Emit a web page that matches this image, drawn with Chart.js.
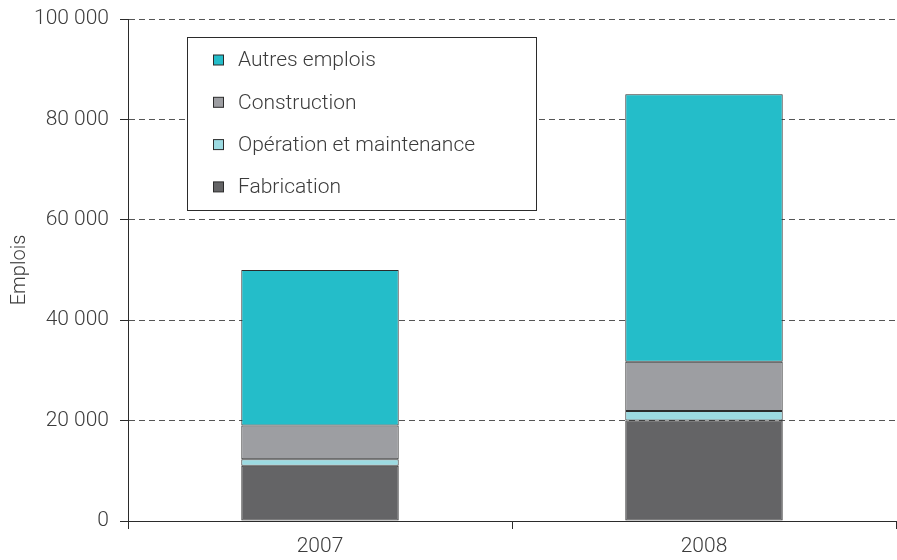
<!DOCTYPE html>
<html>
<head>
<meta charset="utf-8">
<script src="https://cdn.jsdelivr.net/npm/chart.js@4"></script>
<style>
  html, body { margin:0; padding:0; background:#fff; }
  #wrap { width:897px; height:560px; position:relative; }
</style>
</head>
<body>
<div id="wrap"><canvas id="ch"></canvas></div>
<script>
// data
const years        = ['2007', '2008'];
const fabrication  = [11000, 20000];
const operation    = [1300, 1900];
const construction = [6700, 9800];
const autres       = [31000, 53300];
const yTicks       = [0, 20000, 40000, 60000, 80000, 100000];

const FONT = "Roboto, 'Liberation Sans', Arial, sans-serif";
const TXT  = '#3c3c3c';
const EDGE = '#2b2b2b';
const FS   = 21;

const fmt = v => String(v).replace(/\B(?=(\d{3})+(?!\d))/g, ' ');

// legend box inside the plot, top-left (reverse stacking order)
const boxLegend = {
  id: 'boxLegend',
  afterDraw(chart) {
    const { ctx } = chart;
    const x0 = 187.5, y0 = 37.5, w = 349, h = 173;
    ctx.save();
    ctx.fillStyle = '#fff';
    ctx.fillRect(x0, y0, w, h);
    ctx.strokeStyle = EDGE; ctx.lineWidth = 1;
    ctx.strokeRect(x0, y0, w, h);
    ctx.font = '300 ' + FS + 'px ' + FONT;
    ctx.textBaseline = 'middle';
    const items = chart.data.datasets.slice().reverse();
    items.forEach((ds, i) => {
      const cy = 60 + i * 42.3;
      ctx.fillStyle = ds.backgroundColor;
      ctx.fillRect(213.5, cy - 5, 10, 10);
      ctx.strokeStyle = EDGE;
      ctx.strokeRect(213.5, cy - 5, 10, 10);
      ctx.fillStyle = TXT;
      ctx.fillText(ds.label, 238, cy + 1);
    });
    ctx.restore();
  }
};

const mkSet = (label, data, col) => ({
  label, data, backgroundColor: col, borderColor: EDGE, borderWidth: 1,
  borderSkipped: false, categoryPercentage: 1, barPercentage: 0.41
});

const tickFont = { family: FONT, size: FS, weight: 300 };

new Chart(document.getElementById('ch'), {
  type: 'bar',
  data: {
    labels: years,
    datasets: [
      mkSet('Fabrication', fabrication, '#646466'),
      mkSet('Opération et maintenance', operation, '#9cdae1'),
      mkSet('Construction', construction, '#9d9ea2'),
      mkSet('Autres emplois', autres, '#24bdc9'),
    ]
  },
  options: {
    responsive: true, maintainAspectRatio: false, animation: false,
    layout: { padding: { top: 19, right: 1, bottom: 0, left: 0 } },
    plugins: { legend: { display: false }, tooltip: { enabled: false } },
    scales: {
      x: {
        stacked: true,
        afterFit: s => { s.height = 39; s.paddingLeft = 0; s.paddingRight = 0; },
        grid: { drawOnChartArea: false, drawTicks: true, tickLength: 8, color: EDGE, offset: true },
        border: { color: EDGE, width: 1 },
        ticks: { color: TXT, font: tickFont, padding: 5 }
      },
      y: {
        stacked: true, min: 0, max: 100000,
        afterBuildTicks: s => { s.ticks = yTicks.map(v => ({ value: v })); },
        afterFit: s => { s.width = 128; s.paddingTop = 0; s.paddingBottom = 0; },
        grid: { color: '#555', lineWidth: 1, tickLength: 8, tickColor: EDGE, tickBorderDash: [] },
        border: { color: EDGE, width: 1, dash: [6, 4] },
        ticks: { color: TXT, font: tickFont, padding: 11, callback: v => fmt(v) },
        title: { display: true, text: 'Emplois', color: TXT, font: { family: FONT, size: 20, weight: 300 }, padding: { top: 8, bottom: 0 } }
      }
    }
  },
  plugins: [boxLegend]
});
</script>
</body>
</html>
